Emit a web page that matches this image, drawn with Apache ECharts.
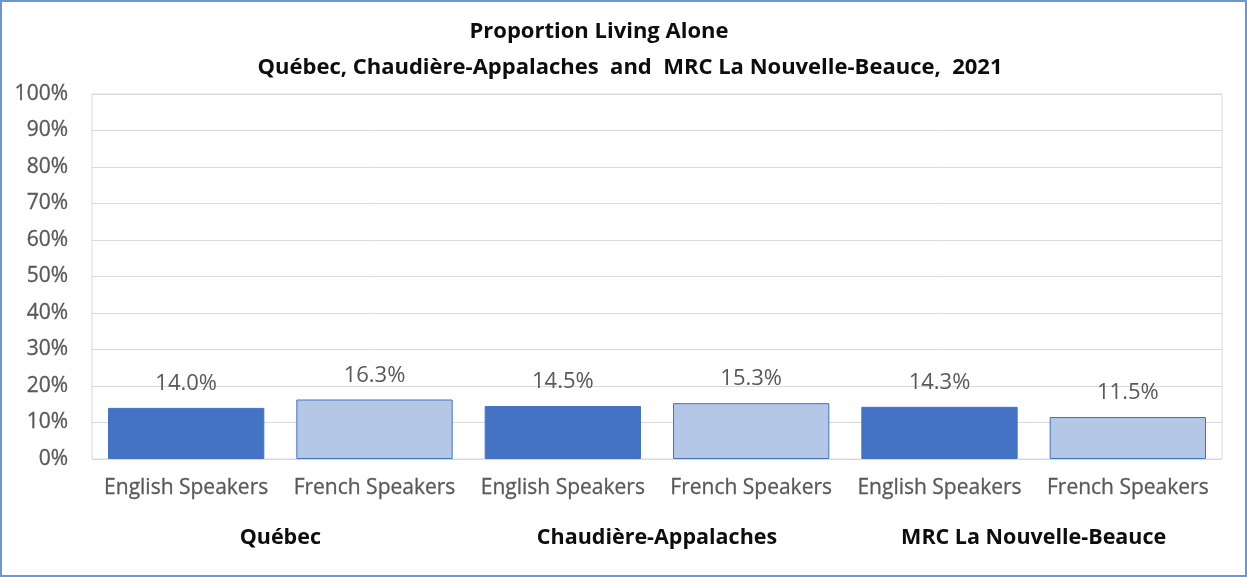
<!DOCTYPE html>
<html>
<head>
<meta charset="utf-8">
<script src="https://cdn.jsdelivr.net/npm/echarts@6/dist/echarts.min.js"></script>
<style>
html,body{margin:0;padding:0;background:#fff;}
#wrap{width:1247px;height:577px;box-sizing:border-box;border:2px solid #6e94d6;position:relative;}
#chart{position:absolute;left:-2px;top:-2px;width:1247px;height:577px;}
</style>
</head>
<body>
<div id="wrap"><div id="chart"></div></div>
<script>
const categories = ['English Speakers','French Speakers','English Speakers','French Speakers','English Speakers','French Speakers'];
const groups = ['Québec','Chaudière-Appalaches','MRC La Nouvelle-Beauce'];
const values = [14.0, 16.3, 14.5, 15.3, 14.3, 11.5];
const yTicks = [0,10,20,30,40,50,60,70,80,90,100];
const titleLines = ['Proportion Living Alone', 'Québec, Chaudière-Appalaches  and  MRC La Nouvelle-Beauce,  2021'];

const FONT = '"Open Sans", "Liberation Sans", sans-serif';
const chart = echarts.init(document.getElementById('chart'), null, {renderer:'canvas'});
const dark = '#4472C4', light = '#B4C7E7';
chart.setOption({
  animation:false,
  title:[{
    text:titleLines[0], left:594, top:16, textAlign:'center',
    textStyle:{fontFamily:FONT, fontSize:22, fontWeight:'bold', color:'#0d0d0d'}
  },{
    text:titleLines[1], left:625, top:52, textAlign:'center',
    textStyle:{fontFamily:FONT, fontSize:22, fontWeight:'bold', color:'#0d0d0d'}
  }],
  grid:{left:92, right:25, top:94, bottom:118, show:true, borderColor:'#d9d9d9', borderWidth:1, containLabel:false},
  xAxis:[{
    type:'category', data:categories, position:'bottom',
    axisLine:{show:false}, axisTick:{show:false},
    axisLabel:{color:'#595959', fontFamily:FONT, fontSize:21, margin:19, interval:0,
      textBorderColor:'#595959', textBorderWidth:0.3}
  },{
    type:'category', data:groups, position:'bottom',
    axisLine:{show:false}, axisTick:{show:false},
    axisLabel:{color:'#0d0d0d', fontFamily:FONT, fontSize:21.5, fontWeight:'bold', margin:68, interval:0}
  }],
  yAxis:{
    type:'value', min:yTicks[0], max:yTicks[yTicks.length-1], interval:10,
    axisLine:{show:false}, axisTick:{show:false},
    splitLine:{lineStyle:{color:'#d9d9d9', width:1}},
    axisLabel:{formatter:'{value}%', color:'#595959', fontFamily:FONT, fontSize:21, margin:24,
      textBorderColor:'#595959', textBorderWidth:0.3}
  },
  series:[{
    type:'bar', xAxisIndex:0,
    data: values.map((v,i)=>({value:v, itemStyle:{color: i%2===0?dark:light, borderColor:dark, borderWidth:1}})),
    barCategoryGap:'17%',
    label:{show:true, position:'top', distance:13, formatter:p=>p.value.toFixed(1)+'%', color:'#595959', fontFamily:FONT, fontSize:22}
  }]
});
</script>
</body>
</html>
